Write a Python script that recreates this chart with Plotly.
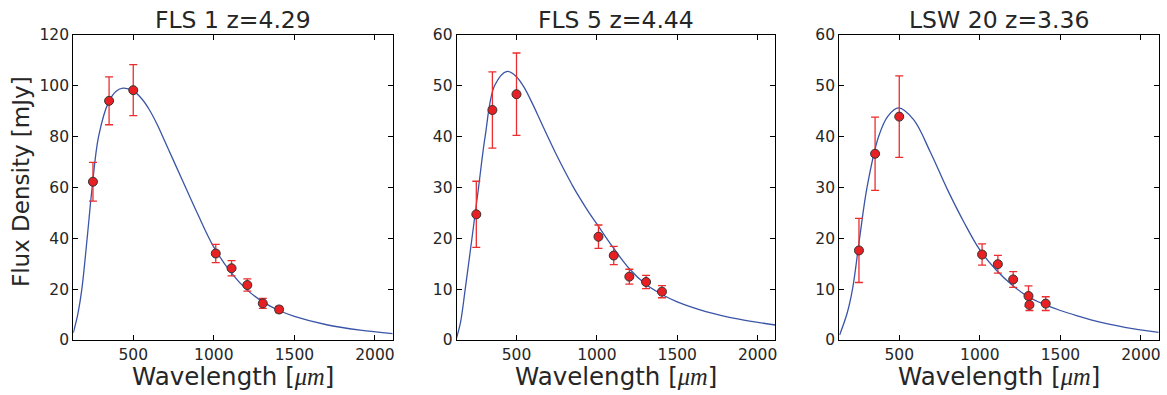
import plotly.graph_objects as go

# ---------------- data ----------------
titles = ["FLS 1 z=4.29", "FLS 5 z=4.44", "LSW 20 z=3.36"]

fls1_wl = [250, 350, 500, 1012, 1110, 1208, 1304, 1405]
fls1_flux = [62.2, 94.0, 98.2, 34.0, 28.2, 21.6, 14.4, 12.0]
fls1_err = [7.6, 9.4, 10.0, 3.6, 3.0, 2.4, 2.0, 1.2]

fls5_wl = [250, 350, 500, 1010, 1105, 1202, 1306, 1405]
fls5_flux = [24.7, 45.2, 48.3, 20.3, 16.6, 12.45, 11.4, 9.5]
fls5_err = [6.5, 7.5, 8.1, 2.3, 1.8, 1.45, 1.3, 1.2]

lsw20_wl = [250, 350, 500, 1014, 1112, 1207, 1302, 1308, 1409]
lsw20_flux = [17.6, 36.6, 43.9, 16.8, 14.9, 11.9, 8.65, 6.9, 7.15]
lsw20_err = [6.3, 7.2, 8.0, 2.1, 1.75, 1.55, 2.0, 1.1, 1.35]

# model curves
fls1_model_wl = [128, 157, 181, 214, 245, 285, 347, 394, 436, 498, 550, 600,
                 650, 700, 750, 800, 900, 1000, 1111, 1208, 1304, 1405, 1500,
                 1700, 1908, 2110]
fls1_model = [2.8, 10.5, 20, 40, 60, 80, 93.5, 97.8, 99.0, 98.0, 95, 90.5,
              84.5, 77.5, 70.5, 63.5, 49.5, 36.5, 26.2, 19.6, 15.0, 11.6, 9.3,
              6.0, 3.9, 2.5]

fls5_model_wl = [126, 152, 181, 223, 264, 305, 364, 442, 498, 550, 600, 650,
                 700, 750, 800, 851, 900, 950, 1000, 1105, 1202, 1306, 1405,
                 1500, 1678, 1884, 2110]
fls5_model = [0.3, 3.5, 10, 20, 30, 40, 50, 52.8, 51.8, 49.5, 46.4, 43.0,
              39.6, 36.3, 33.2, 30.2, 27.6, 25.1, 22.8, 18.0, 14.0, 10.9, 8.95,
              7.5, 5.6, 4.1, 2.95]

lsw20_model_wl = [130, 176, 210, 254, 300, 372, 430, 496, 589, 692, 800, 899,
                  1000, 1100, 1200, 1300, 1400, 1500, 1600, 1746, 1900, 2110]
lsw20_model = [1.0, 5.2, 10, 20, 30, 40, 44, 45.6, 43.3, 37.0, 29.5, 23.3,
               17.7, 13.8, 10.8, 8.5, 7.0, 5.8, 4.8, 3.5, 2.5, 1.5]

x_ticks = [500, 1000, 1500, 2000]
y_ticks_1 = [0, 20, 40, 60, 80, 100, 120]
y_ticks_2 = [0, 10, 20, 30, 40, 50, 60]
x_range = [128, 2110]
y_ranges = [[0, 120], [0, 60], [0, 60]]

# ---------------- styling ----------------
W, H = 1167, 395
FONT = "DejaVu Sans"
TXT = "#262626"
RED = "rgb(232,32,36)"
ERR = "rgb(236,45,45)"
BLUE = "#3a55a8"

x_px = [(73.3, 392.7), (456.7, 775.3), (839.3, 1158.7)]
y_top_px, y_bot_px = 34.7, 340.0

datasets = [
    (fls1_wl, fls1_flux, fls1_err, fls1_model_wl, fls1_model),
    (fls5_wl, fls5_flux, fls5_err, fls5_model_wl, fls5_model),
    (lsw20_wl, lsw20_flux, lsw20_err, lsw20_model_wl, lsw20_model),
]

fig = go.Figure()
for i, (wl, fl, er, mwl, mfl) in enumerate(datasets):
    xa = "x" if i == 0 else f"x{i+1}"
    ya = "y" if i == 0 else f"y{i+1}"
    fig.add_trace(go.Scatter(
        x=mwl, y=mfl, mode="lines", xaxis=xa, yaxis=ya,
        line=dict(color=BLUE, width=1.3, shape="spline", smoothing=1.0),
        showlegend=False, hoverinfo="skip"))
    fig.add_trace(go.Scatter(
        x=wl, y=fl, mode="markers", xaxis=xa, yaxis=ya,
        marker=dict(color=RED, size=9, line=dict(color="#333333", width=1)),
        error_y=dict(type="data", array=er, visible=True, color=ERR,
                     thickness=1.3, width=4),
        showlegend=False))

axis_common = dict(
    showline=True, linecolor="black", linewidth=1.2, mirror="allticks",
    ticks="inside", ticklen=5, tickwidth=1, tickcolor="black",
    showgrid=False, zeroline=False, automargin=False,
    tickfont=dict(family=FONT, size=15.5, color=TXT),
)

layout = dict(
    template="none",
    width=W, height=H, autosize=False,
    margin=dict(l=0, r=0, t=0, b=0, pad=0),
    paper_bgcolor="white", plot_bgcolor="white",
    font=dict(family=FONT, color=TXT),
    annotations=[],
)

for i in range(3):
    sfx = "" if i == 0 else str(i + 1)
    x0, x1 = x_px[i]
    layout["xaxis" + sfx] = dict(
        axis_common, domain=[x0 / W, x1 / W], range=x_range,
        tickvals=x_ticks, anchor="y" + sfx)
    layout["yaxis" + sfx] = dict(
        axis_common, domain=[1 - y_bot_px / H, 1 - y_top_px / H],
        range=y_ranges[i], tickvals=(y_ticks_1 if i == 0 else y_ticks_2),
        anchor="x" + sfx)
    cx = (x0 + x1) / 2 / W
    layout["annotations"].append(dict(
        text=titles[i], x=cx, y=1 - 19.5 / H, xref="paper", yref="paper",
        xanchor="center", yanchor="middle", showarrow=False,
        font=dict(family=FONT, size=23.5, color=TXT)))
    layout["annotations"].append(dict(
        text="Wavelength [<span style='font-family:Liberation Serif'><i>μm</i></span>]",
        x=cx, y=1 - 376 / H, xref="paper", yref="paper",
        xanchor="center", yanchor="middle", showarrow=False,
        font=dict(family=FONT, size=24.5, color=TXT)))

layout["annotations"].append(dict(
    text="Flux Density [mJy]", x=21 / W, y=1 - 182 / H,
    xref="paper", yref="paper", xanchor="center", yanchor="middle",
    textangle=-90, showarrow=False,
    font=dict(family=FONT, size=23, color=TXT)))

fig.update_layout(**layout)
fig.write_html(
    "out.html",
    config=dict(displayModeBar=False),
    post_script="document.body.style.margin='0px';"
                "document.body.style.overflow='hidden';",
)
